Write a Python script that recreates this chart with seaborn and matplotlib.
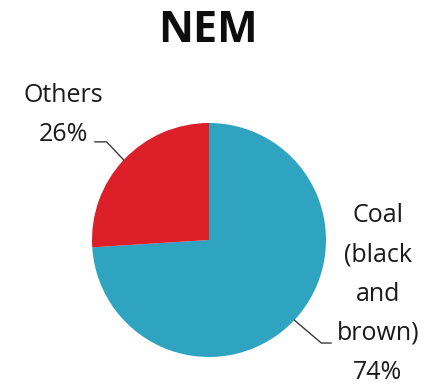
import numpy as np
import matplotlib
matplotlib.use("Agg")
import matplotlib.pyplot as plt
import seaborn as sns

sns.set_theme(style="white")
plt.rcParams["font.family"] = ["Open Sans", "DejaVu Sans"]

title = "NEM"
categories = ["Coal (black and brown)", "Others"]
label_lines = ["Coal\n(black\nand\nbrown)", "Others"]
shares = [74, 26]
colors = ["#2EA4C0", "#DD1F2A"]

W, H = 424, 387
fig = plt.figure(figsize=(W / 100, H / 100), dpi=100)
cx, cy, r = 209, 240, 117
ax = fig.add_axes([(cx - r) / W, (H - cy - r) / H, 2 * r / W, 2 * r / H])

wedges, _ = ax.pie(shares, colors=colors, startangle=90, counterclock=False,
                   radius=1.0, wedgeprops=dict(linewidth=0))
ax.set_xlim(-1, 1)
ax.set_ylim(-1, 1)
ax.set_aspect("equal")
ax.axis("off")

# leader line geometry and text anchor for each slice: (elbow dx, dy, tail dx, text x, text y)
layout = {
    "Coal (black and brown)": dict(elbow=(0.231, -0.196), tail=0.085, text=(1.444, -0.462)),
    "Others": dict(elbow=(-0.146, 0.154), tail=-0.102, text=(-1.248, 1.068)),
}

for w, cat, lab, val in zip(wedges, categories, label_lines, shares):
    mid = np.deg2rad((w.theta1 + w.theta2) / 2)
    x0, y0 = np.cos(mid), np.sin(mid)
    lay = layout[cat]
    x1, y1 = x0 + lay["elbow"][0], y0 + lay["elbow"][1]
    x2 = x1 + lay["tail"]
    ax.plot([x0, x1, x2], [y0, y1, y1], color="#3a3a3a", lw=1.0, clip_on=False)
    tx, ty = lay["text"]
    ax.text(tx, ty, f"{lab}\n{val}%", ha="center", va="center", fontsize=18,
            linespacing=1.75, color="#1a1a1a", clip_on=False)

fig.text(208 / W, 1 - 30 / H, title, ha="center", va="center",
         fontsize=31, fontweight="bold", color="#0d0d0d")

fig.savefig("out.png", dpi=100, facecolor="white")
